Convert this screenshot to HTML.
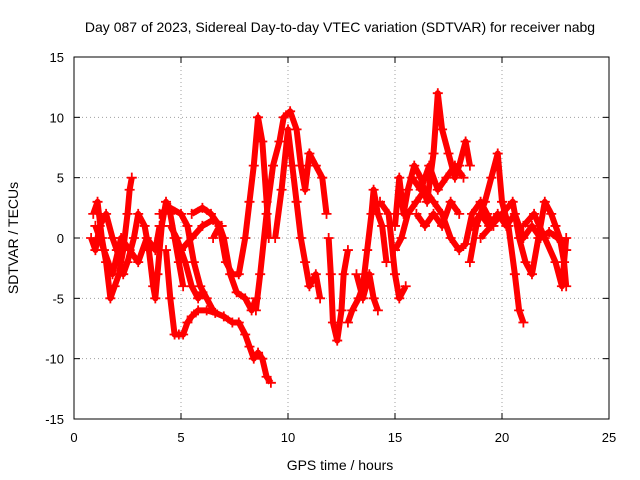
<!DOCTYPE html>
<html><head><meta charset="utf-8"><style>
html,body{margin:0;padding:0;background:#fff;}
svg{display:block;font-family:"Liberation Sans",sans-serif;}
</style></head><body>
<svg id="chart" width="640" height="480" viewBox="0 0 640 480">
<text x="340" y="32" font-size="14" text-anchor="middle">Day 087 of 2023, Sidereal Day-to-day VTEC variation (SDTVAR) for receiver nabg</text>
<text x="340" y="470" font-size="14" text-anchor="middle">GPS time / hours</text>
<text transform="translate(18,238) rotate(-90)" font-size="14" text-anchor="middle">SDTVAR / TECUs</text>
<g id="grid"></g><g id="ticks"></g><g id="series"></g>
<rect x="74" y="57" width="535" height="362" fill="none" stroke="#000" stroke-width="1"/>
</svg>
<script>
const xTicks=[0,5,10,15,20,25];
const yTicks=[-15,-10,-5,0,5,10,15];
const s1=[[0.9,2],[1.1,3],[1.3,0],[1.5,-2],[1.7,-5],[1.9,-4],[2.1,-3],[2.3,-1],[2.5,2],[2.6,4],[2.7,5]];
const s2=[[0.8,0],[1.0,-1],[1.2,1],[1.5,2],[1.8,0],[2.0,-1],[2.3,-3],[2.5,-2],[2.8,0],[3.0,2],[3.3,1],[3.5,-1],[3.7,-4],[3.8,-5],[3.9,-3],[4.1,1],[4.3,3],[4.5,2],[4.7,0],[4.9,-2],[5.1,-4]];
const s3=[[4.3,-1],[4.5,-5],[4.7,-8],[4.9,-8],[5.1,-8],[5.3,-7],[5.5,-6.5],[5.8,-6],[6.2,-6],[6.6,-6.2],[7.0,-6.5],[7.4,-7],[7.7,-7],[8.0,-8],[8.2,-9],[8.4,-10],[8.6,-9.5],[8.8,-10],[9.0,-11.5],[9.2,-12]];
const s4=[[4.0,2],[4.5,2.5],[5.0,2],[5.3,1],[5.6,-2],[5.9,-4],[6.2,-5],[6.5,-6]];
const s5=[[4.5,1],[4.8,0],[5.2,-2],[5.5,-4],[5.8,-5],[6.0,-4.5]];
const s6=[[5.5,2],[6.0,2.5],[6.4,2],[6.8,1],[7.0,0],[7.3,-3],[7.6,-4.5],[8.0,-5],[8.3,-6],[8.5,-5]];
const s7=[[6.5,0],[6.8,1],[7.1,-2],[7.4,-3],[7.7,-3],[8.0,0],[8.2,3],[8.4,6],[8.6,10],[8.8,8],[9.0,3],[9.1,0]];
const s8=[[8.5,-6],[8.7,-3],[9.0,2],[9.3,6],[9.6,8],[9.8,10],[10.1,10.5],[10.4,9],[10.6,6],[10.8,4],[11.0,7],[11.3,6],[11.6,5],[11.8,2]];
const s9=[[9.4,0],[9.7,4],[10.0,9],[10.2,6],[10.4,3],[10.6,0],[10.8,-2],[11.0,-4],[11.3,-3],[11.5,-5]];
const s10=[[11.9,0],[12.0,-3],[12.1,-7],[12.3,-8.5],[12.5,-6],[12.6,-3],[12.8,-1]];
const s11=[[12.8,-7],[13.0,-6],[13.3,-5],[13.5,-4],[13.7,-1],[13.9,2],[14.0,4],[14.2,2],[14.4,1],[14.6,-2]];
const s12=[[13.2,-3],[13.5,-5],[13.8,-3],[14.0,-5],[14.2,-6]];
const s13=[[14.3,3],[14.7,2],[15.0,-3],[15.2,-5],[15.5,-4]];
const s14=[[15.0,1],[15.2,5],[15.4,2],[15.6,4],[15.9,6],[16.2,5],[16.5,3],[16.8,7],[17.0,12],[17.2,9],[17.5,7],[17.8,5],[18.0,6],[18.3,8],[18.5,6]];
const s15=[[15.0,-1],[15.3,0],[15.6,2],[16.0,3],[16.4,4],[16.8,3],[17.2,2],[17.6,0],[18.0,-1],[18.3,-0.5],[18.6,2],[19.0,3],[19.3,2],[19.6,1]];
const s16=[[18.5,-2],[18.8,1],[19.2,3],[19.5,5],[19.8,7],[20.0,3],[20.3,1],[20.6,-3],[20.8,-6],[21.0,-7]];
const s17=[[19.0,0],[19.5,1],[20.0,2],[20.5,3],[20.8,0],[21.1,-2],[21.4,-3],[21.7,0],[22.0,3],[22.3,2],[22.5,1],[22.7,0],[22.9,-2],[23.0,-4]];
const s18=[[21.0,1],[21.5,2],[22.0,0],[22.5,-2],[22.8,-4],[23.0,0]];
const s19=[[18.6,1],[19.0,2],[19.4,1],[19.8,2],[20.2,1],[20.6,2],[21.0,0],[21.4,1],[21.8,0],[22.2,0.5],[22.6,0],[23.0,-1]];
const s20=[[15.8,5],[16.2,4],[16.6,6],[17.0,4],[17.4,5],[17.8,6],[18.2,5]];
const s21=[[1.0,1],[1.4,-1],[1.8,-3],[2.2,0],[2.6,-1],[3.0,-2],[3.4,0],[3.8,-1],[4.0,1]];
const s22=[[5.0,-1],[5.5,0],[6.0,1],[6.5,1.5],[6.9,1]];
const s23=[[16.0,2],[16.4,1],[16.8,2],[17.2,1],[17.6,3],[18.0,2]];
const allSeries=[s1,s2,s3,s4,s5,s6,s7,s8,s9,s10,s11,s12,s13,s14,s15,s16,s17,s18,s19,s20,s21,s22,s23];
const NS="http://www.w3.org/2000/svg";
const X0=74,X1=609,Y0=419,Y1=57;
function xs(t){return X0+(t-0)/(25-0)*(X1-X0);}
function ys(v){return Y0-(v+15)/30*(Y0-Y1);}
const grid=document.getElementById('grid'),ticks=document.getElementById('ticks'),ser=document.getElementById('series');
function mk(tag,attrs,parent){const e=document.createElementNS(NS,tag);for(const k in attrs)e.setAttribute(k,attrs[k]);parent.appendChild(e);return e;}
xTicks.forEach(t=>{const x=xs(t);
 if(t>0&&t<25){const g=mk('line',{x1:x,x2:x,y1:Y0,y2:Y1,stroke:'#a0a0a0','stroke-dasharray':'1,3'},grid);
 
 }
 mk('line',{x1:x,x2:x,y1:Y0,y2:Y0-6,stroke:'#000'},ticks);mk('line',{x1:x,x2:x,y1:Y1,y2:Y1+6,stroke:'#000'},ticks);
 const l=mk('text',{x:x,y:Y0+23,'font-size':13,'text-anchor':'middle'},ticks);l.textContent=t;
 
 });
yTicks.forEach(v=>{const y=ys(v);
 if(v>-15&&v<15){const g=mk('line',{x1:X0,x2:X1,y1:y,y2:y,stroke:'#a0a0a0','stroke-dasharray':'1,3'},grid);
 
 }
 mk('line',{x1:X0,x2:X0+6,y1:y,y2:y,stroke:'#000'},ticks);mk('line',{x1:X1,x2:X1-6,y1:y,y2:y,stroke:'#000'},ticks);
 const l=mk('text',{x:X0-10,y:y+5,'font-size':13,'text-anchor':'end'},ticks);l.textContent=v;
 
 });
allSeries.forEach((s,i)=>{
 const pl=mk('polyline',{points:s.map(p=>xs(p[0])+','+ys(p[1])).join(' '),fill:'none',stroke:'#ff0000','stroke-width':6,'stroke-linejoin':'round'},ser);
 
 
 s.forEach(p=>{const x=xs(p[0]),y=ys(p[1]);
  const m=mk('path',{d:`M${x-5},${y}H${x+5}M${x},${y-5}V${y+5}`,stroke:'#ff0000','stroke-width':1.8},ser);
  
  });
});
</script>
</body></html>
